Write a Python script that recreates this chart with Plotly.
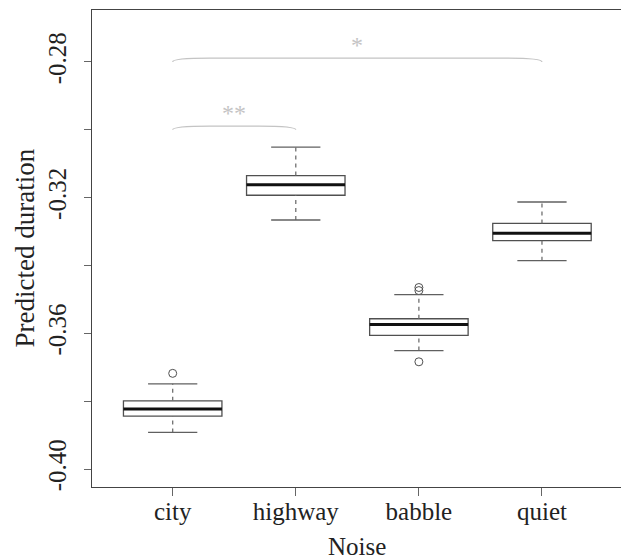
import plotly.graph_objects as go

categories = ["city", "highway", "babble", "quiet"]
whisker_low = [-0.3892, -0.3266, -0.3651, -0.3386]
q1 = [-0.3844, -0.3193, -0.3606, -0.3327]
median = [-0.3823, -0.3162, -0.3574, -0.3305]
q3 = [-0.3799, -0.3135, -0.3557, -0.3276]
whisker_high = [-0.3749, -0.3051, -0.3486, -0.3213]
outliers = [[-0.3718], [], [-0.3465, -0.3474, -0.3684], []]

ytick_vals = [-0.40, -0.38, -0.36, -0.34, -0.32, -0.30, -0.28]
ytick_text = ["-0.40", "", "-0.36", "", "-0.32", "", "-0.28"]

# significance brackets: (from, to, level, label)
brackets = [("city", "quiet", -0.28, "*"), ("city", "highway", -0.30, "**")]

FONT = "Liberation Serif"
BOXC = "#505050"
BOXW = 0.8
STAPLE = 0.4

fig = go.Figure()
shapes = []
for i, cat in enumerate(categories):
    x = i + 1
    L, R = x - BOXW / 2, x + BOXW / 2
    shapes.append(dict(type="rect", xref="x", yref="y", x0=L, x1=R, y0=q1[i], y1=q3[i],
                       line=dict(color=BOXC, width=1.3), fillcolor="rgba(0,0,0,0)", layer="above"))
    shapes.append(dict(type="line", xref="x", yref="y", x0=L, x1=R, y0=median[i], y1=median[i],
                       line=dict(color="#111", width=3), layer="above"))
    for a, b in [(whisker_low[i], q1[i]), (q3[i], whisker_high[i])]:
        shapes.append(dict(type="line", xref="x", yref="y", x0=x, x1=x, y0=a, y1=b,
                           line=dict(color="#707070", width=1.3, dash="4px,4px"), layer="above"))
    for v in (whisker_low[i], whisker_high[i]):
        shapes.append(dict(type="line", xref="x", yref="y", x0=x - STAPLE / 2, x1=x + STAPLE / 2,
                           y0=v, y1=v, line=dict(color="#606060", width=1.3), layer="above"))

ox, oy = [], []
for i, vals in enumerate(outliers):
    for v in vals:
        ox.append(i + 1)
        oy.append(v)
fig.add_trace(go.Scatter(x=ox, y=oy, mode="markers", showlegend=False, hoverinfo="skip",
                         marker=dict(symbol="circle-open", size=8, color="#505050",
                                     line=dict(width=1))))

annotations = []
for a, b, lvl, lab in brackets:
    x1 = categories.index(a) + 1
    x2 = categories.index(b) + 1
    top = lvl + 0.0011
    dx = 0.3
    path = (f"M {x1},{lvl} Q {x1},{top} {x1 + dx},{top} L {x2 - dx},{top} "
            f"Q {x2},{top} {x2},{lvl}")
    shapes.append(dict(type="path", xref="x", yref="y", path=path,
                       line=dict(color="#c4c4c4", width=1.3)))
    annotations.append(dict(x=(x1 + x2) / 2, y=top, xref="x", yref="y", text=lab,
                            showarrow=False, yanchor="bottom", yshift=-2,
                            font=dict(family=FONT, size=24, color="#c4c4c4")))

annotations.append(dict(x=0, y=0.5, xref="paper", yref="paper", text="Predicted duration",
                        textangle=-90, showarrow=False, xanchor="center", yanchor="middle",
                        xshift=-68, font=dict(family=FONT, size=27, color="#222")))
annotations.append(dict(x=0.5, y=0, xref="x domain", yref="paper", text="Noise",
                        showarrow=False, xanchor="center", yanchor="middle",
                        yshift=-59, font=dict(family=FONT, size=25, color="#222")))

fig.update_layout(
    width=621, height=560,
    margin=dict(l=92, r=0, t=10, b=73),
    paper_bgcolor="white", plot_bgcolor="white",
    shapes=shapes, annotations=annotations,
    showlegend=False,
    font=dict(family=FONT, size=25, color="#222"),
)
fig.update_xaxes(range=[0.3445, 4.642], tickvals=[1, 2, 3, 4], ticktext=categories,
                 showgrid=False, zeroline=False, showline=True, mirror=True,
                 linecolor="#444", linewidth=1.2, ticks="outside", ticklen=8,
                 tickcolor="#666", tickwidth=1.2, ticklabelstandoff=-6,
                 tickfont=dict(family=FONT, size=25, color="#222"))
fig.update_yaxes(range=[-0.4053, -0.2647], tickvals=ytick_vals, ticktext=ytick_text,
                 showgrid=False, zeroline=False, showline=True, mirror=True,
                 linecolor="#444", linewidth=1.2, ticks="outside", ticklen=7,
                 tickcolor="#666", tickwidth=1.2, tickangle=-90, ticklabelstandoff=8,
                 tickfont=dict(family=FONT, size=25, color="#222"))

fig.write_html("out.html", config={"displayModeBar": False},
               post_script="document.body.style.margin='0';")
